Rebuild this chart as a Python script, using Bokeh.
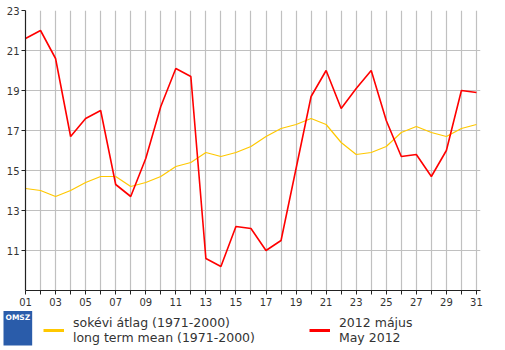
from bokeh.plotting import figure
from bokeh.layouts import column
from bokeh.models import FixedTicker, Legend, LegendItem, Label
from bokeh.embed import file_html
from bokeh.resources import INLINE

days = list(range(1, 32))
may_2012 = [21.6, 22.0, 20.6, 16.7, 17.6, 18.0, 14.3, 13.7, 15.6, 18.2,
            20.1, 19.7, 10.6, 10.2, 12.2, 12.1, 11.0, 11.5, 15.1, 18.7,
            20.0, 18.1, 19.1, 20.0, 17.5, 15.7, 15.8, 14.7, 16.0, 19.0, 18.9]
long_term = [14.1, 14.0, 13.7, 14.0, 14.4, 14.7, 14.7, 14.2, 14.4, 14.7,
             15.2, 15.4, 15.9, 15.7, 15.9, 16.2, 16.7, 17.1, 17.3, 17.6,
             17.3, 16.4, 15.8, 15.9, 16.2, 16.9, 17.2, 16.9, 16.7, 17.1, 17.3]
y_ticks = [11, 13, 15, 17, 19, 21, 23]
x_labels = {d: (f"{d:02d}" if d % 2 == 1 else "") for d in days}
legend_mean = "sokévi átlag (1971-2000)\nlong term mean (1971-2000)"
legend_2012 = "2012 május\nMay 2012"

FONT = "DejaVu Sans"
GRID = "#c0c0c0"
TXT = "#333333"
yellow = "#ffc800"
red = "#ff0000"
NAN = float("nan")

W = 489
p = figure(width=W, height=310, x_range=(1, 31.27), y_range=(9, 23),
           output_backend="svg", toolbar_location=None,
           min_border_left=25, min_border_right=9, min_border_top=10,
           min_border_bottom=20)
p.outline_line_color = None

p.line(days, long_term, color=yellow, line_width=1.2)
p.line(days, may_2012, color=red, line_width=1.6)

p.xaxis.ticker = FixedTicker(ticks=days)
p.xaxis.major_label_overrides = x_labels
p.yaxis.ticker = FixedTicker(ticks=y_ticks)
p.xgrid.ticker = FixedTicker(ticks=days)
p.ygrid.ticker = FixedTicker(ticks=y_ticks)
for g in (p.xgrid, p.ygrid):
    g.grid_line_color = GRID
    g.grid_line_width = 1.2
for ax in (p.xaxis, p.yaxis):
    ax.axis_line_color = "#222222"
    ax.axis_line_width = 1.2
    ax.major_tick_line_color = "#222222"
    ax.major_tick_in = 0
    ax.major_tick_out = 4
    ax.minor_tick_line_color = None
    ax.major_label_text_font = FONT
    ax.major_label_text_font_size = "10px"
    ax.major_label_text_color = TXT
p.xaxis.major_label_standoff = 3
p.yaxis.major_label_standoff = 2

# legend strip below the chart
q = figure(width=W, height=40, x_range=(0, 1), y_range=(0, 1),
           output_backend="svg", toolbar_location=None,
           min_border=0, outline_line_color=None)
q.axis.visible = False
q.grid.visible = False

off = 0
try:
    p.frame_align = False
    q.frame_align = False
except Exception:
    off = 25

ly = q.line([NAN], [NAN], color=yellow, line_width=3)
lr = q.line([NAN], [NAN], color=red, line_width=3)
legend = Legend(items=[LegendItem(label=legend_mean, renderers=[ly]),
                       LegendItem(label=legend_2012, renderers=[lr])],
                orientation="horizontal", location=(43 - off, 5),
                glyph_width=21, label_standoff=9, spacing=54,
                padding=2, margin=0, border_line_color=None,
                background_fill_alpha=0,
                label_text_font=FONT, label_text_font_size="12.5px",
                label_text_line_height=1.15,
                label_text_color=TXT)
q.add_layout(legend)
logo = Label(x=max(3 - off, 0), y=5, x_units="screen", y_units="screen",
             text="OMSZ\n\n", text_font=FONT, text_font_size="7.5px",
             text_font_style="bold", text_color="white",
             background_fill_color="#2a5caa", padding=2)
q.add_layout(logo)

open("out.html", "w").write(file_html(column(p, q, spacing=0), INLINE))
